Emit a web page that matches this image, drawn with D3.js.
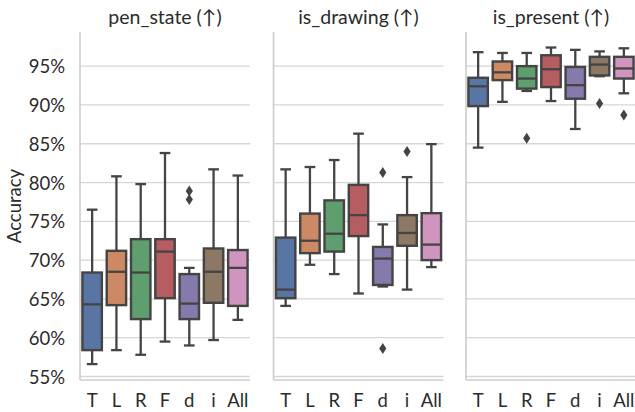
<!DOCTYPE html>
<html>
<head>
<meta charset="utf-8">
<script src="https://cdn.jsdelivr.net/npm/d3@7.9.0/dist/d3.min.js"></script>
<style>
  body { margin: 0; background: #fff; }
  svg text { font-family: Lato, "DejaVu Sans", sans-serif; fill: #2b2b2b; }
</style>
</head>
<body>
<svg width="635" height="412"></svg>
<script>
const categories = ['T', 'L', 'R', 'F', 'd', 'i', 'All'];
const panelTitles = ['pen_state (\u2191)', 'is_drawing (\u2191)', 'is_present (\u2191)'];
const yTicks = [55, 60, 65, 70, 75, 80, 85, 90, 95];
const boxColors = ['#5975a4', '#cc8963', '#5f9e6e', '#b55d60', '#857aab', '#8d7866', '#d095bf'];

// each row: [whisker low, q1, median, q3, whisker high]
const penState = [
  [56.6, 58.4, 64.3, 68.4, 76.5],
  [58.4, 64.2, 68.5, 71.2, 80.8],
  [57.8, 62.4, 68.4, 72.7, 79.8],
  [59.5, 65.1, 71.1, 72.7, 83.8],
  [59.0, 62.4, 64.4, 68.2, 69.0],
  [59.7, 64.5, 68.5, 71.5, 81.7],
  [62.3, 64.1, 69.0, 71.3, 80.9]
];
const penStateOutliers = [[], [], [], [], [78.9, 77.8], [], []];

const isDrawing = [
  [64.1, 65.1, 66.2, 72.9, 81.7],
  [69.4, 70.9, 72.5, 76.0, 82.0],
  [68.2, 71.1, 73.4, 77.7, 82.9],
  [65.7, 73.1, 75.8, 79.7, 86.3],
  [66.6, 66.8, 70.2, 71.7, 74.6],
  [66.2, 71.85, 73.5, 75.8, 80.7],
  [69.1, 70.0, 72.0, 76.05, 84.95]
];
const isDrawingOutliers = [[], [], [], [], [81.3, 58.6], [84.0], []];

const isPresent = [
  [84.5, 89.85, 92.4, 93.5, 96.8],
  [90.4, 93.2, 94.2, 95.6, 96.7],
  [91.8, 92.1, 93.4, 95.0, 96.7],
  [90.5, 92.3, 94.6, 96.4, 97.4],
  [86.9, 90.8, 92.55, 94.9, 97.1],
  [93.7, 93.8, 95.2, 96.2, 96.9],
  [91.5, 93.4, 94.7, 96.2, 97.3]
];
const isPresentOutliers = [[], [], [85.7], [], [], [90.2], [88.7]];

const panels = [
  { title: panelTitles[0], stats: penState, outliers: penStateOutliers },
  { title: panelTitles[1], stats: isDrawing, outliers: isDrawingOutliers },
  { title: panelTitles[2], stats: isPresent, outliers: isPresentOutliers }
];

const svg = d3.select('svg');
const lineColor = '#444444';
const panelW = 170;
const panelX = [80, 273.5, 466];
const plotTop = 32, plotBottom = 380;

const y = d3.scaleLinear().domain([54.55, 99.4]).range([plotBottom, plotTop]);
const x = d3.scaleBand().domain(categories).range([0, panelW])
  .paddingInner(0.2).paddingOuter(0.1);

// thin diamond like matplotlib 'd'
const diamond = (cx, cy) => `M${cx},${cy - 5.5}L${cx + 3.6},${cy}L${cx},${cy + 5.5}L${cx - 3.6},${cy}Z`;

panels.forEach((p, pi) => {
  const g = svg.append('g').attr('transform', `translate(${panelX[pi]},0)`);

  // grid
  g.append('g').selectAll('line').data(yTicks).join('line')
    .attr('x1', 0).attr('x2', panelW)
    .attr('y1', d => y(d)).attr('y2', d => y(d))
    .attr('stroke', '#d6d6d6').attr('stroke-width', 1.3);

  // spines
  g.append('line').attr('x1', 0).attr('x2', 0).attr('y1', plotTop).attr('y2', plotBottom)
    .attr('stroke', '#cccccc').attr('stroke-width', 1.6);
  g.append('line').attr('x1', 0).attr('x2', panelW).attr('y1', plotBottom).attr('y2', plotBottom)
    .attr('stroke', '#cccccc').attr('stroke-width', 1.6);

  // title
  g.append('text').attr('x', panelW / 2).attr('y', 24)
    .attr('text-anchor', 'middle').attr('font-size', 19.5)
    .text(p.title);

  // x tick labels
  g.append('g').selectAll('text').data(categories).join('text')
    .attr('x', d => x(d) + x.bandwidth() / 2).attr('y', 407)
    .attr('text-anchor', 'middle').attr('font-size', 18.5)
    .text(d => d);

  // y tick labels on first panel only
  if (pi === 0) {
    g.append('g').selectAll('text').data(yTicks).join('text')
      .attr('x', -15).attr('y', d => y(d) + 7)
      .attr('text-anchor', 'end').attr('font-size', 18.5)
      .text(d => d + '%');
    g.append('text')
      .attr('transform', `translate(-59,${(plotTop + plotBottom) / 2}) rotate(-90)`)
      .attr('text-anchor', 'middle').attr('font-size', 18.5)
      .text('Accuracy');
  }

  // boxes
  const bw = x.bandwidth();
  const capW = bw * 0.55;
  p.stats.forEach((s, i) => {
    const [lo, q1, med, q3, hi] = s;
    const cx = x(categories[i]) + bw / 2;
    const bg = g.append('g').attr('stroke', lineColor).attr('stroke-width', 2.3);
    bg.append('line').attr('x1', cx).attr('x2', cx).attr('y1', y(q3)).attr('y2', y(hi));
    bg.append('line').attr('x1', cx).attr('x2', cx).attr('y1', y(q1)).attr('y2', y(lo));
    bg.append('line').attr('x1', cx - capW / 2).attr('x2', cx + capW / 2).attr('y1', y(hi)).attr('y2', y(hi));
    bg.append('line').attr('x1', cx - capW / 2).attr('x2', cx + capW / 2).attr('y1', y(lo)).attr('y2', y(lo));
    bg.append('rect').attr('x', x(categories[i])).attr('width', bw)
      .attr('y', y(q3)).attr('height', y(q1) - y(q3))
      .attr('fill', boxColors[i]).attr('stroke-width', 2.4);
    bg.append('line').attr('x1', x(categories[i])).attr('x2', x(categories[i]) + bw)
      .attr('y1', y(med)).attr('y2', y(med));
    p.outliers[i].forEach(o => {
      g.append('path').attr('d', diamond(cx, y(o))).attr('fill', lineColor);
    });
  });
});
</script>
</body>
</html>
